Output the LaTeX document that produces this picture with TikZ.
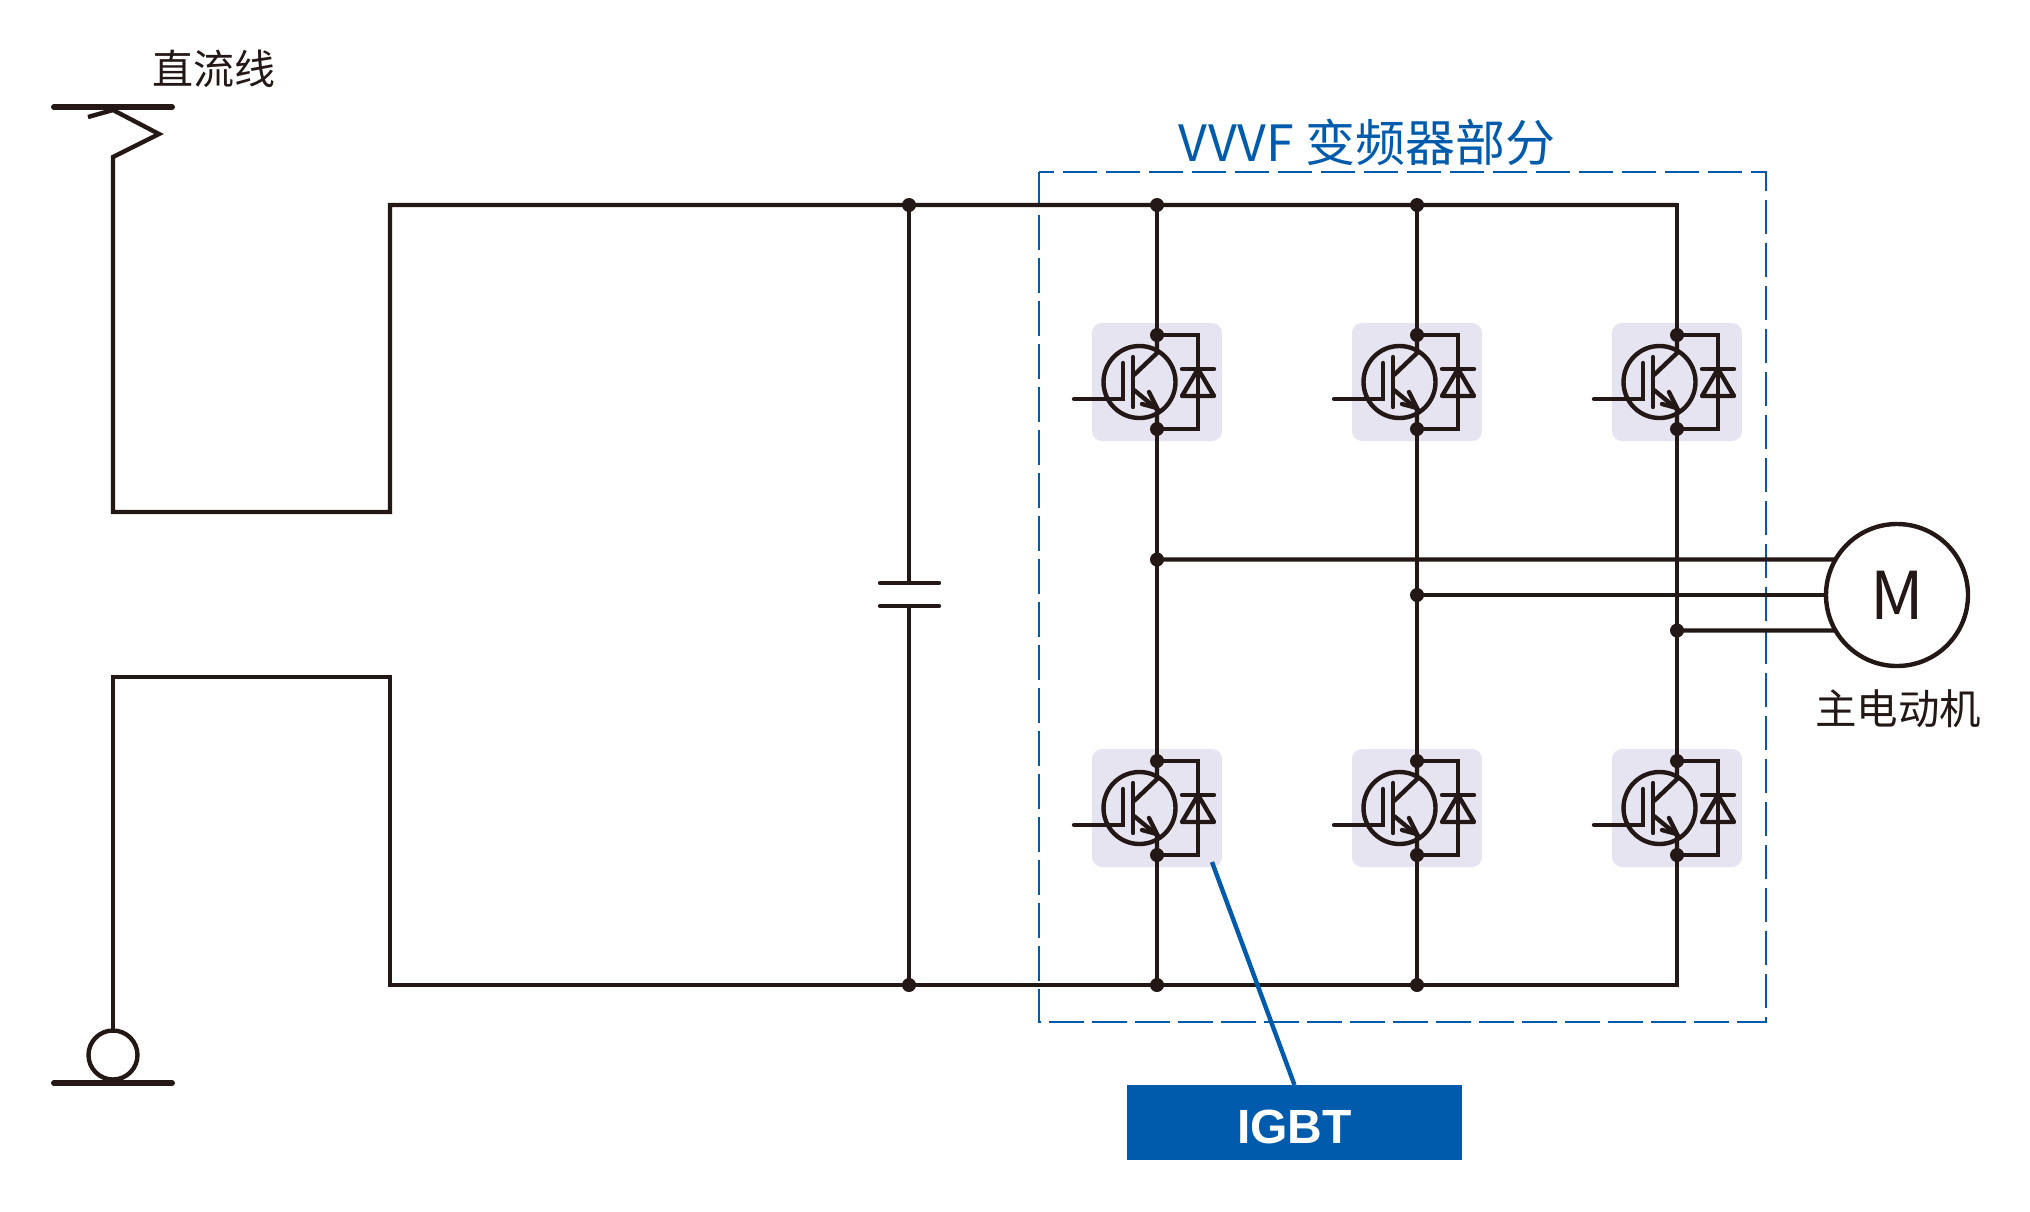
\documentclass[tikz,border=0pt]{standalone}
\usepackage{fontspec}
\newfontfamily\cjkfont{Noto Sans CJK SC}
\setsansfont{Liberation Sans}
\definecolor{wirecol}{HTML}{231815}
\definecolor{bluecol}{HTML}{005BAC}
\definecolor{panelcol}{HTML}{E6E4F1}
\tikzset{
	wire/.style={draw=wirecol,line width=4.4pt},
	barline/.style={draw=wirecol,line width=6pt,line cap=round},
	dot/.style={circle,fill=wirecol,inner sep=0pt,minimum size=14pt},
	igbtcell/.pic={
		\fill[panelcol,rounded corners=10pt] (-65,-59) rectangle (65,59);
		\coordinate (-c) at (0,-47);
		\coordinate (-e) at (0,47);
		\draw[wire] (-17.5,0) circle (36);
		\draw[wire,line cap=round] (-83,17) -- (-34,17) -- (-34,-19);
		\draw[wire,line cap=round] (-24,-25) -- (-24,25);
		\draw[wire] (-23,-7) -- (0,-29) -- (-c);
		\draw[wire] (-23,8) -- (0,27) -- (-e);
		\draw[wire,line cap=round] (-8,10) -- (0,26) -- (-15,22);
		\draw[wire] (-c) -- (41,-47) -- (41,47) -- (-e);
		\draw[wire,line cap=round,line join=round] (25,-13) -- (57,-13);
		\draw[wire,line join=round] (41,-13) -- (25,14) -- (57,14) -- cycle;
		\node[dot] at (-c) {};
		\node[dot] at (-e) {};
	}
}
\begin{document}
\begin{tikzpicture}[x=1pt,y=-1pt]
	\useasboundingbox (0,0) rectangle (2030,1211);
	\fill[white] (0,0) rectangle (2030,1211);
	% inverter frame
	\draw[bluecol,line width=2.4pt,dash pattern=on 34.5pt off 8.5pt] (1039,172) rectangle (1766,1022);
	\node[text=bluecol,font=\cjkfont\fontsize{50}{54}\selectfont,inner sep=0pt] (vvvf) at (1367,142) {VVVF 变频器部分};
	% current collector and return
	\coordinate (topbar) at (113,107);
	\coordinate (botbar) at (113,1083);
	\draw[barline] (54,107) -- (172,107);
	\draw[barline] (54,1083) -- (172,1083);
	\node[font=\cjkfont\fontsize{41}{44}\selectfont,text=wirecol,inner sep=0pt] (dcline) at (213.5,69) {直流线};
	\node[wire,circle,fill=white,minimum size=49pt,inner sep=0pt,outer sep=0pt] (wheel) at (113,1055) {};
	% bus
	\coordinate (bustl) at (390,205);
	\coordinate (bustr) at (1677,205);
	\coordinate (busbl) at (390,985);
	\coordinate (busbr) at (1677,985);
	\draw[wire] (88,117) -- (topbar |- 0,110) -- (159,134) -- (113,157) -- (113,512) -- (390,512) -- (bustl) -- (bustr);
	\draw[wire] (wheel.north) -- (113,677) -- (390,677) -- (busbl) -- (busbr);
	% capacitor
	\coordinate (capt) at (909,205);
	\coordinate (capb) at (909,985);
	\coordinate (capu) at (909,583);
	\coordinate (capl) at (909,606);
	\draw[wire] (capt) -- (capu);
	\draw[wire] (capl) -- (capb);
	\draw[wire,line cap=round] (880,583) -- (939,583);
	\draw[wire,line cap=round] (880,606) -- (939,606);
	\node[dot] (capdt) at (capt) {};
	\node[dot] (capdb) at (capb) {};
	% motor
	\node[wire,circle,minimum size=142pt,inner sep=0pt,outer sep=0pt,font=\cjkfont\fontsize{66}{70}\selectfont,text=wirecol] (motor) at (1897,595) {M};
	\node[font=\cjkfont\fontsize{41.5}{44}\selectfont,text=wirecol,inner sep=0pt] (motorlab) at (1898,709) {主电动机};
	% legs
	\foreach \leg/\xleg/\yout/\ang in {a/1157/559.5/150,b/1417/595/180,c/1677/630.5/210}{
		\pic (\leg u) at (\xleg,382) {igbtcell};
		\pic (\leg l) at (\xleg,808) {igbtcell};
		\coordinate (\leg t) at (\xleg,205);
		\coordinate (\leg b) at (\xleg,985);
		\coordinate (\leg o) at (\xleg,\yout);
		\draw[wire,line cap=rect] (\leg t) -- (\leg u-c);
		\draw[wire] (\leg u-e) -- (\leg l-c);
		\draw[wire,line cap=rect] (\leg l-e) -- (\leg b);
		\draw[wire] (\leg o) -- (motor.\ang);
		\node[dot] (\leg od) at (\leg o) {};
	}
	\node[dot] (atd) at (at) {};
	\node[dot] (btd) at (bt) {};
	\node[dot] (abd) at (ab) {};
	\node[dot] (bbd) at (bb) {};
	% label
	\node[fill=bluecol,text=white,font=\sffamily\bfseries\fontsize{48}{50}\selectfont,minimum width=335pt,minimum height=75pt,inner sep=0pt,outer sep=0pt,text height=42pt,text depth=0pt] (igbt) at (1294.5,1122.5) {IGBT};
	\coordinate (igbtp) at (1212,862);
	\draw[bluecol,line width=4.4pt] (igbtp) -- (igbt.north);
\end{tikzpicture}
\end{document}
